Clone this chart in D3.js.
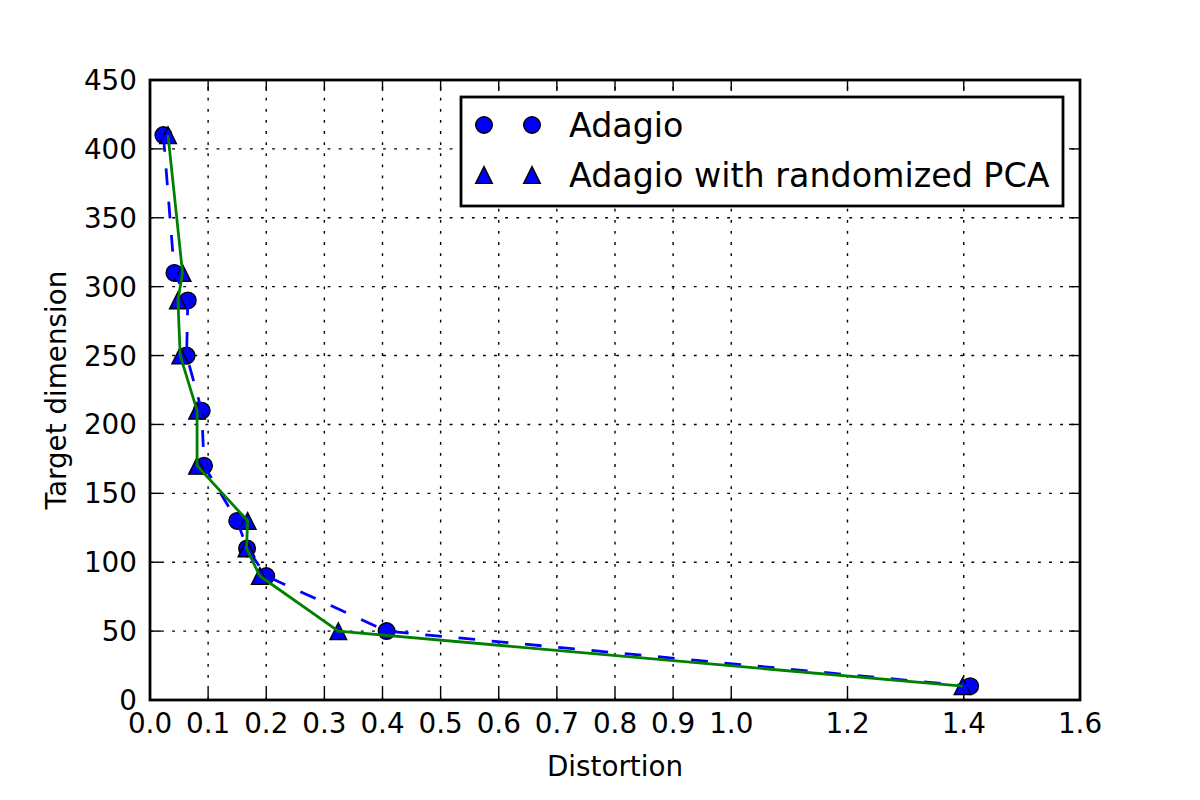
<!DOCTYPE html>
<html lang="en">
<head>
    <meta charset="UTF-8">
    <title>Distortion vs Target dimension</title>
    <script src="https://d3js.org/d3.v7.min.js"></script>
    <style>
        body {
            margin: 0;
            background: white;
            font-family: "DejaVu Sans", sans-serif;
        }
    </style>
</head>
<body>
<div id="chart"></div>
<script>
    const width = 1200;
    const height = 800;

    // data
    const targetDims = [410, 310, 290, 250, 210, 170, 130, 110, 90, 50, 10];
    const adagio = [0.023, 0.042, 0.065, 0.063, 0.089, 0.093, 0.150, 0.167, 0.200, 0.407, 1.411];
    const adagioPCA = [0.031, 0.056, 0.048, 0.052, 0.081, 0.081, 0.168, 0.166, 0.189, 0.324, 1.398];

    const xTicks = [0.0, 0.1, 0.2, 0.3, 0.4, 0.5, 0.6, 0.7, 0.8, 0.9, 1.0, 1.2, 1.4, 1.6];
    const yTicks = [0, 50, 100, 150, 200, 250, 300, 350, 400, 450];
    const seriesNames = ["Adagio", "Adagio with randomized PCA"];

    const margin = {left: 150, right: 120, top: 80, bottom: 100};

    const x = d3.scaleLinear()
        .domain([0, 1.6])
        .range([margin.left, width - margin.right]);

    const y = d3.scaleLinear()
        .domain([0, 450])
        .range([height - margin.bottom, margin.top]);

    const svg = d3.select("#chart")
        .append("svg")
        .attr("width", width)
        .attr("height", height);

    const fontSize = 27.8;

    // grid
    svg.append("g")
        .selectAll("line")
        .data(xTicks.filter(d => d > 0 && d < 1.6))
        .join("line")
        .attr("x1", d => x(d))
        .attr("x2", d => x(d))
        .attr("y1", y(0))
        .attr("y2", y(450))
        .attr("stroke", "black")
        .attr("stroke-width", 1.4)
        .attr("stroke-dasharray", "2.8,8.3");

    svg.append("g")
        .selectAll("line")
        .data(yTicks.filter(d => d > 0 && d < 450))
        .join("line")
        .attr("x1", x(0))
        .attr("x2", x(1.6))
        .attr("y1", d => y(d))
        .attr("y2", d => y(d))
        .attr("stroke", "black")
        .attr("stroke-width", 1.4)
        .attr("stroke-dasharray", "2.8,8.3");

    // inward ticks on all four sides
    const tickLen = 11;
    const ticks = svg.append("g")
        .attr("stroke", "black")
        .attr("stroke-width", 1.4);

    xTicks.forEach(d => {
        ticks.append("line")
            .attr("x1", x(d)).attr("x2", x(d))
            .attr("y1", y(0)).attr("y2", y(0) - tickLen);
        ticks.append("line")
            .attr("x1", x(d)).attr("x2", x(d))
            .attr("y1", y(450)).attr("y2", y(450) + tickLen);
    });
    yTicks.forEach(d => {
        ticks.append("line")
            .attr("x1", x(0)).attr("x2", x(0) + tickLen)
            .attr("y1", y(d)).attr("y2", y(d));
        ticks.append("line")
            .attr("x1", x(1.6)).attr("x2", x(1.6) - tickLen)
            .attr("y1", y(d)).attr("y2", y(d));
    });

    // tick labels
    svg.append("g")
        .selectAll("text")
        .data(xTicks)
        .join("text")
        .attr("x", d => x(d))
        .attr("y", y(0) + 33)
        .attr("text-anchor", "middle")
        .attr("font-size", fontSize)
        .text(d => d.toFixed(1));

    svg.append("g")
        .selectAll("text")
        .data(yTicks)
        .join("text")
        .attr("x", x(0) - 13)
        .attr("y", d => y(d) + 10)
        .attr("text-anchor", "end")
        .attr("font-size", fontSize)
        .text(d => d);

    // axis labels
    svg.append("text")
        .attr("x", (x(0) + x(1.6)) / 2)
        .attr("y", 776)
        .attr("text-anchor", "middle")
        .attr("font-size", fontSize)
        .text("Distortion");

    svg.append("text")
        .attr("transform", `translate(66, ${(y(0) + y(450)) / 2}) rotate(-90)`)
        .attr("text-anchor", "middle")
        .attr("font-size", fontSize)
        .text("Target dimension");

    // markers
    const circleR = 8.3;
    const triSize = 16.7;
    const triangle = (cx, cy, s) => {
        const h = s / 2;
        return `M${cx},${cy - h}L${cx - h},${cy + h}L${cx + h},${cy + h}Z`;
    };

    const adagioPts = targetDims.map((t, i) => ({x: adagio[i], y: t}));
    const pcaPts = targetDims.map((t, i) => ({x: adagioPCA[i], y: t}));

    svg.append("g")
        .selectAll("circle")
        .data(adagioPts)
        .join("circle")
        .attr("cx", d => x(d.x))
        .attr("cy", d => y(d.y))
        .attr("r", circleR)
        .attr("fill", "#0000ff")
        .attr("stroke", "black")
        .attr("stroke-width", 1.4);

    svg.append("g")
        .selectAll("path")
        .data(pcaPts)
        .join("path")
        .attr("d", d => triangle(x(d.x), y(d.y), triSize))
        .attr("fill", "#0000ff")
        .attr("stroke", "black")
        .attr("stroke-width", 1.4);

    const line = d3.line()
        .x(d => x(d.x))
        .y(d => y(d.y));

    svg.append("path")
        .datum(adagioPts)
        .attr("d", line)
        .attr("fill", "none")
        .attr("stroke", "#0000ff")
        .attr("stroke-width", 2.78)
        .attr("stroke-dasharray", "16.7,16.7");

    svg.append("path")
        .datum(pcaPts)
        .attr("d", line)
        .attr("fill", "none")
        .attr("stroke", "#008000")
        .attr("stroke-width", 2.78);

    // frame
    svg.append("rect")
        .attr("x", x(0))
        .attr("y", y(450))
        .attr("width", x(1.6) - x(0))
        .attr("height", y(0) - y(450))
        .attr("fill", "none")
        .attr("stroke", "black")
        .attr("stroke-width", 2.78);

    // legend
    const legend = svg.append("g");
    legend.append("rect")
        .attr("x", 461)
        .attr("y", 97)
        .attr("width", 602)
        .attr("height", 109)
        .attr("fill", "white")
        .attr("stroke", "black")
        .attr("stroke-width", 2.78);

    const rowY = [125, 175];
    [484, 532].forEach(mx => {
        legend.append("circle")
            .attr("cx", mx)
            .attr("cy", rowY[0])
            .attr("r", circleR)
            .attr("fill", "#0000ff")
            .attr("stroke", "black")
            .attr("stroke-width", 1.4);
        legend.append("path")
            .attr("d", triangle(mx, rowY[1], triSize))
            .attr("fill", "#0000ff")
            .attr("stroke", "black")
            .attr("stroke-width", 1.4);
    });

    legend.selectAll("text")
        .data(seriesNames)
        .join("text")
        .attr("x", 569)
        .attr("y", (d, i) => rowY[i] + 12)
        .attr("font-size", 33.3)
        .text(d => d);
</script>
</body>
</html>
